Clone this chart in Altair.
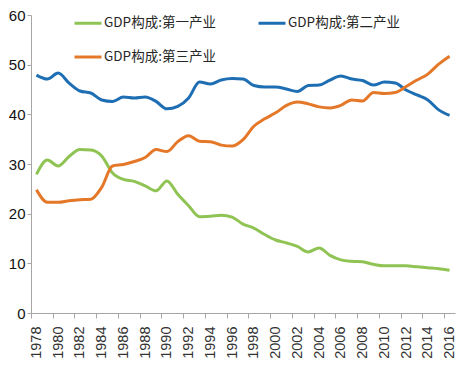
import altair as alt
import pandas as pd

years = list(range(1978, 2017))
primary = [27.9, 30.8, 29.6, 31.5, 32.9, 32.8, 31.6, 28.2, 26.9, 26.5,
           25.6, 24.6, 26.6, 23.9, 21.6, 19.4, 19.5, 19.7, 19.3, 17.9,
           17.1, 15.8, 14.7, 14.1, 13.4, 12.3, 13.1, 11.6, 10.7, 10.4,
           10.3, 9.8, 9.5, 9.5, 9.5, 9.3, 9.1, 8.9, 8.6]
secondary = [47.9, 47.1, 48.3, 46.3, 44.7, 44.3, 42.9, 42.6, 43.5, 43.3,
             43.5, 42.6, 41.1, 41.6, 43.3, 46.5, 46.1, 46.9, 47.2, 47.1,
             45.8, 45.5, 45.5, 45.1, 44.6, 45.8, 45.9, 46.9, 47.7, 47.1,
             46.8, 45.9, 46.5, 46.3, 44.9, 43.9, 42.9, 40.9, 39.8]
tertiary = [24.8, 22.3, 22.3, 22.6, 22.8, 22.9, 25.3, 29.6, 29.9, 30.5,
            31.3, 32.9, 32.5, 34.5, 35.7, 34.6, 34.5, 33.8, 33.6, 34.9,
            37.6, 39.1, 40.3, 41.8, 42.5, 42.1, 41.5, 41.3, 41.8, 42.9,
            42.7, 44.4, 44.2, 44.4, 45.6, 46.9, 48.1, 50.1, 51.7]
series_names = ["GDP构成:第一产业", "GDP构成:第二产业", "GDP构成:第三产业"]
colors = ["#8FC454", "#1E6EB4", "#E47828"]
y_ticks = [0, 10, 20, 30, 40, 50, 60]
x_labels = years[::2]

df = pd.DataFrame({
    "year": years * 3,
    "value": primary + secondary + tertiary,
    "series": [n for n in series_names for _ in years],
})

W, H = 424, 298
half_band = W / len(years) / 2
axis_gray = "#A6A6A6"

chart = alt.Chart(df).mark_line(strokeWidth=3, interpolate="monotone").encode(
    x=alt.X("year:Q", scale=alt.Scale(domain=[1977.5, 2016.5], nice=False, zero=False),
            axis=alt.Axis(values=x_labels, format="d", labelAngle=-90,
                          tickSize=5, tickColor=axis_gray, tickOffset=-half_band,
                          labelOffset=half_band, labelPadding=8,
                          labelFontSize=14.5, labelFont="Liberation Sans",
                          labelColor="#333333", domainColor=axis_gray, grid=False,
                          title=None, labelOverlap=False)),
    y=alt.Y("value:Q", scale=alt.Scale(domain=[0, 60], nice=False),
            axis=alt.Axis(values=y_ticks, tickSize=4, tickColor=axis_gray,
                          domainColor=axis_gray, grid=False, title=None,
                          labelFont="Liberation Sans", labelFontSize=15,
                          labelColor="#111111", labelPadding=2)),
    color=alt.Color("series:N",
                    scale=alt.Scale(domain=series_names, range=colors),
                    legend=alt.Legend(orient="none", legendX=42, legendY=-7, columns=2,
                                      direction="horizontal", values=series_names,
                                      symbolType="stroke", symbolSize=729,
                                      symbolStrokeWidth=3, labelFont="Noto Sans CJK SC",
                                      labelFontSize=13.5, labelColor="#262626",
                                      labelOffset=1, rowPadding=12, columnPadding=36,
                                      padding=0, title=None, labelLimit=0)),
).properties(
    width=W, height=H,
    autosize=alt.AutoSizeParams(type="none"),
    padding={"left": 23, "top": 7, "right": 1, "bottom": 49},
    background="white",
).configure_view(stroke=None)

chart.save("out.html", embed_options={"renderer": "svg", "actions": False})
